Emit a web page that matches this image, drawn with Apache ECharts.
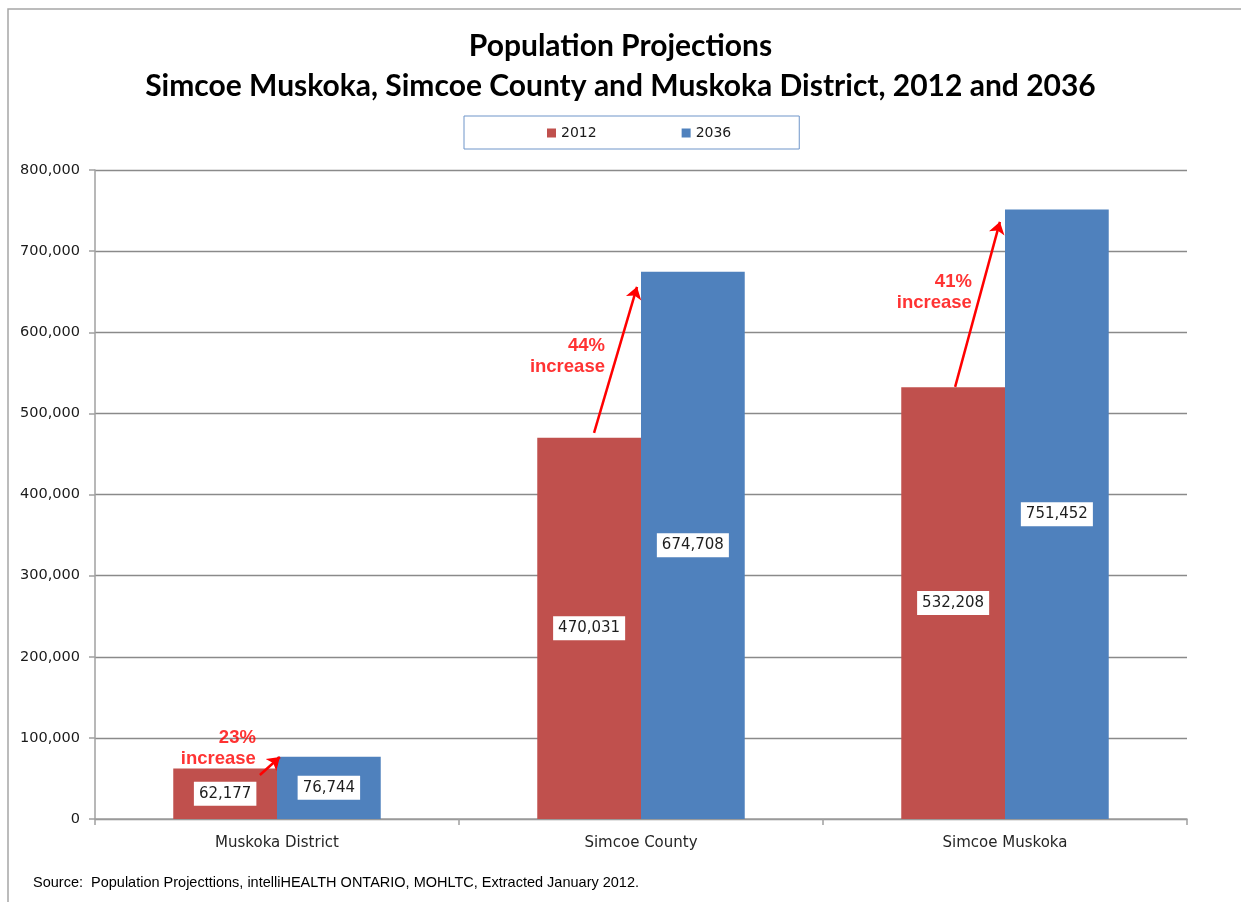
<!DOCTYPE html>
<html>
<head>
<meta charset="utf-8">
<script src="https://cdn.jsdelivr.net/npm/echarts@6/dist/echarts.min.js"></script>
<style>
html,body{margin:0;padding:0;background:#fff;}
#chart{width:1241px;height:902px;}
</style>
</head>
<body>
<div id="chart"></div>
<script>
// ---- data ----
var categories = ['Muskoka District', 'Simcoe County', 'Simcoe Muskoka'];
var seriesNames = ['2012', '2036'];
var values2012 = [62177, 470031, 532208];
var values2036 = [76744, 674708, 751452];
var yTicks = [0, 100000, 200000, 300000, 400000, 500000, 600000, 700000, 800000];
// annotation arrows in data space (x on a 0..3 band scale, y in population)
var arrowFrom = [[0.453, 54300], [1.371, 476000], [2.363, 532700]];
var arrowTo = [[0.508, 76400], [1.489, 656000], [2.486, 736100]];
// annotation text anchors (right edge, vertical middle)
var noteAt = [[0.442, 86900], [1.401, 570300], [2.409, 649200]];
var sourceText = 'Source:  Population Projecttions, intelliHEALTH ONTARIO, MOHLTC, Extracted January 2012.';

function fmt(v) { return v.toString().replace(/\B(?=(\d{3})+(?!\d))/g, ','); }

var pct = values2012.map(function (v, i) { return Math.round((values2036[i] / v - 1) * 100); });

var labelStyle = {
  show: true,
  position: 'inside',
  formatter: function (p) { return fmt(p.value); },
  backgroundColor: '#ffffff',
  color: '#1e1e1e',
  fontFamily: 'DejaVu Sans',
  fontSize: 15,
  padding: [5, 5, 4, 5]
};

var chart = echarts.init(document.getElementById('chart'), null, { renderer: 'canvas' });

var option = {
  backgroundColor: '#ffffff',
  animation: false,
  title: {
    text: 'Population Projections\nSimcoe Muskoka, Simcoe County and Muskoka District, 2012 and 2036',
    left: 'center',
    top: 21,
    textStyle: {
      fontFamily: 'Lato',
      fontWeight: 'bold',
      fontSize: 30,
      lineHeight: 40,
      color: '#000000'
    }
  },
  legend: {
    data: seriesNames,
    left: 464,
    top: 116,
    padding: [10, 68, 9, 83],
    itemWidth: 9,
    itemHeight: 9,
    itemGap: 85,
    icon: 'rect',
    borderColor: '#6f95c9',
    borderWidth: 1,
    textStyle: { fontFamily: 'DejaVu Sans', fontSize: 14, color: '#1a1a1a' }
  },
  grid: { left: 95, right: 54, top: 170, bottom: 83 },
  xAxis: [{
    type: 'category',
    data: categories,
    axisLine: { lineStyle: { color: '#a0a0a0', width: 1.5 } },
    axisTick: { show: true, length: 6, lineStyle: { color: '#a0a0a0', width: 1.5 } },
    axisLabel: { margin: 17, fontFamily: 'DejaVu Sans', fontSize: 15, color: '#262626' }
  }, {
    type: 'value',
    min: 0,
    max: 3,
    show: false
  }],
  yAxis: {
    type: 'value',
    min: 0,
    max: 800000,
    interval: 100000,
    axisLine: { show: true, lineStyle: { color: '#a0a0a0', width: 1.5 } },
    axisTick: { show: true, length: 6, lineStyle: { color: '#a0a0a0', width: 1.5 } },
    splitLine: { lineStyle: { color: '#8a8a8a', width: 1.4 } },
    axisLabel: {
      margin: 15,
      fontFamily: 'DejaVu Sans',
      fontSize: 14.5,
      color: '#1a1a1a',
      formatter: function (v) { return yTicks.indexOf(v) >= 0 ? fmt(v) : ''; }
    }
  },
  graphic: [
    {
      type: 'rect',
      z: -10,
      shape: { x: 8, y: 9, width: 1400, height: 1000 },
      style: { fill: 'none', stroke: '#a6a6a6', lineWidth: 1.5 }
    },
    {
      type: 'text',
      left: 33, top: 875,
      style: { text: sourceText, font: '14.5px "Liberation Sans"', fill: '#000000' }
    }
  ],
  series: [
    {
      name: '2012', type: 'bar', data: values2012,
      barGap: '0%', barCategoryGap: '43%',
      itemStyle: { color: '#c0504d' },
      label: labelStyle
    },
    {
      name: '2036', type: 'bar', data: values2036,
      barGap: '0%', barCategoryGap: '43%',
      itemStyle: { color: '#4f81bd' },
      label: labelStyle
    },
    {
      type: 'lines',
      coordinateSystem: 'cartesian2d',
      xAxisIndex: 1,
      yAxisIndex: 0,
      symbol: ['none', 'arrow'],
      symbolSize: 12,
      lineStyle: { color: '#ff0000', width: 2.5, opacity: 1 },
      data: arrowFrom.map(function (a, i) { return { coords: [a, arrowTo[i]] }; }),
      z: 5
    },
    {
      type: 'scatter',
      xAxisIndex: 1,
      yAxisIndex: 0,
      symbolSize: 0,
      silent: true,
      data: noteAt.map(function (p) { return { value: p }; }),
      label: {
        show: true,
        position: 'left',
        distance: 0,
        align: 'right',
        formatter: function (p) { return pct[p.dataIndex] + '%\nincrease'; },
        fontFamily: 'Liberation Sans',
        fontWeight: 'bold',
        fontSize: 18.5,
        lineHeight: 21,
        color: '#ff0000'
      },
      z: 6
    }
  ]
};

chart.setOption(option);
</script>
</body>
</html>
